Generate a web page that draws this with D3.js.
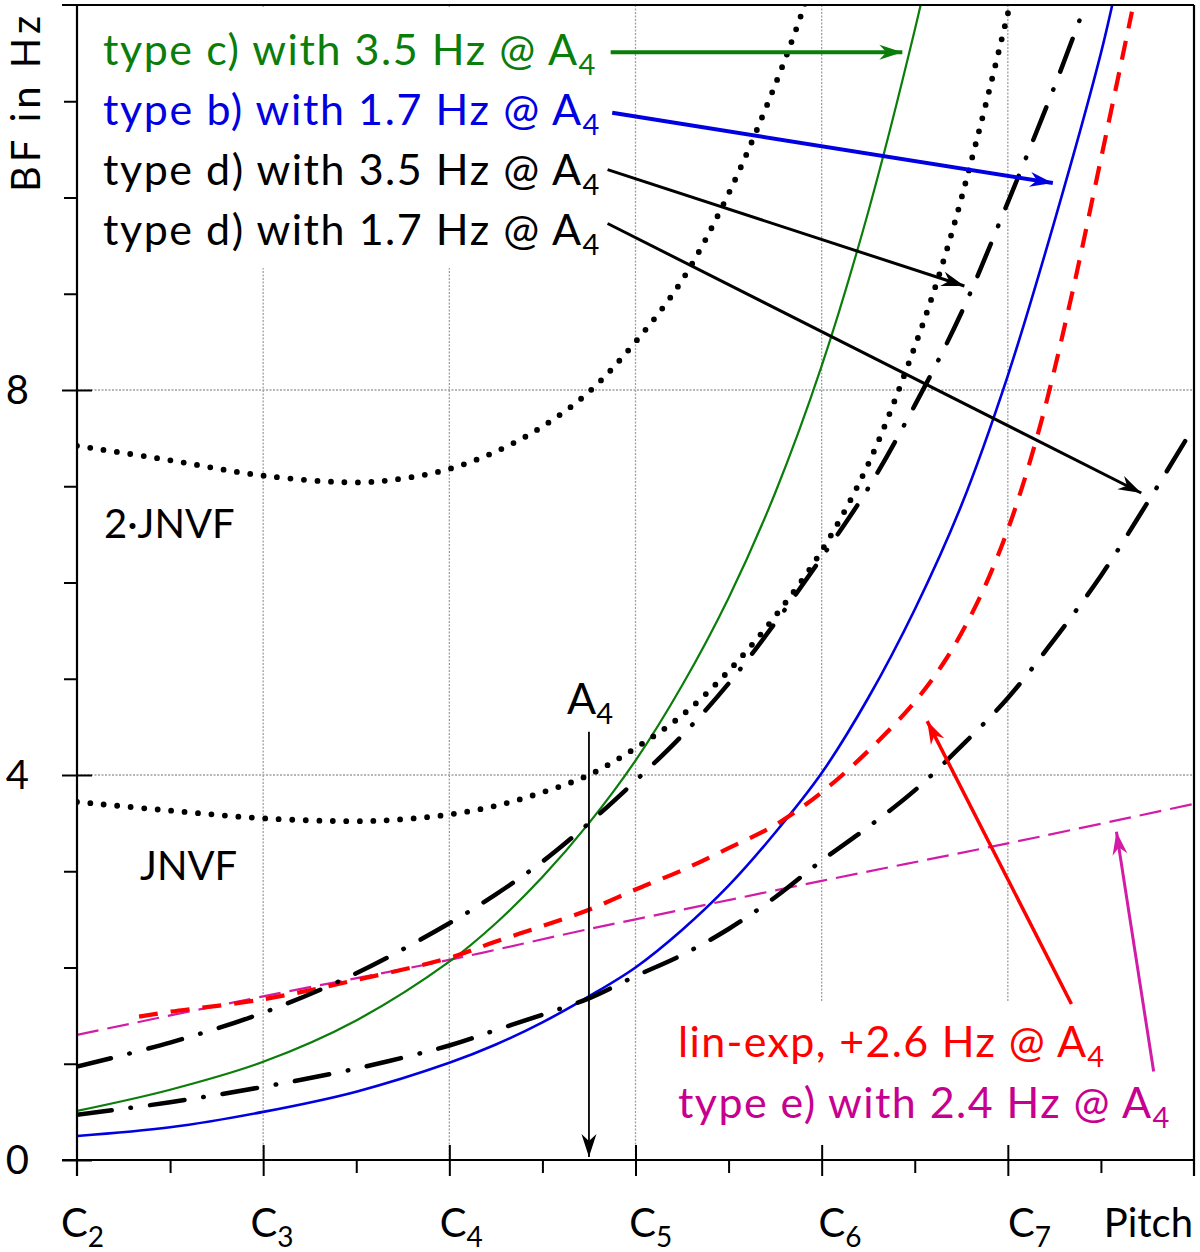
<!DOCTYPE html>
<html>
<head>
<meta charset="utf-8">
<script src="https://cdn.jsdelivr.net/npm/d3@7"></script>
<style>
  body { margin: 0; background: #fff; }
  text { font-family: Lato, "Open Sans", sans-serif; }
</style>
</head>
<body>
<svg id="chart" width="1200" height="1252"></svg>
<script>
// pitch as MIDI note number (C2 = 36 ... C8 = 108), BF in Hz
const octavePitch = [36, 48, 60, 72, 84, 96];
const octaveNames = ['C2', 'C3', 'C4', 'C5', 'C6', 'C7'];
const halfOctavePitch = [42, 54, 66, 78, 90, 102];
const hzMajor = [0, 4, 8];
const hzMinor = [1, 2, 3, 5, 6, 7, 9, 10, 11];

// JNVF and 2·JNVF (dotted)
const jnvfPitch = [36, 42, 48, 54, 57, 60, 63, 66, 69, 72, 75, 78, 81, 84, 87, 90, 92, 94, 96, 97];
const jnvfValues = [3.72, 3.63, 3.55, 3.52, 3.54, 3.59, 3.68, 3.82, 4.00, 4.28, 4.62, 5.08, 5.65, 6.33, 7.23, 8.45, 9.42, 10.60, 11.91, 12.6];
const jnvf2Pitch = [36, 42, 48, 54, 57, 60, 63, 66, 69, 72, 75, 78, 81, 83, 84];
const jnvf2Values = [7.42, 7.27, 7.11, 7.04, 7.08, 7.18, 7.36, 7.62, 7.98, 8.50, 9.14, 10.04, 11.17, 12.05, 12.6];

// type b) 1.7 Hz @ A4 (blue)
const typeBPitch = [36, 42, 48, 54, 60, 63, 66, 69, 72, 75, 78, 81, 84, 87, 90, 93, 96, 99, 102, 103];
const typeBValues = [0.25, 0.34, 0.50, 0.71, 1.01, 1.20, 1.43, 1.70, 2.00, 2.39, 2.85, 3.40, 4.02, 4.80, 5.72, 6.80, 8.15, 9.75, 11.50, 12.2];

// type c) 3.5 Hz @ A4 (green)
const typeCPitch = [36, 42, 48, 54, 60, 63, 66, 69, 72, 75, 78, 81, 84, 87, 90, 91];
const typeCValues = [0.51, 0.73, 1.02, 1.45, 2.06, 2.46, 2.94, 3.50, 4.15, 4.93, 5.84, 6.93, 8.25, 9.85, 11.74, 12.45];

// type d) 3.5 Hz and 1.7 Hz @ A4 (black dash-dot)
const typeD35Pitch = [36, 42, 48, 54, 60, 63, 66, 69, 72, 75, 78, 81, 84, 87, 90, 93, 96, 99, 101, 102];
const typeD35Values = [0.97, 1.22, 1.53, 1.94, 2.46, 2.76, 3.10, 3.50, 3.94, 4.41, 4.95, 5.58, 6.26, 6.98, 7.84, 8.80, 9.95, 11.15, 12.0, 12.4];
const typeD17Pitch = [36, 42, 48, 54, 60, 63, 66, 69, 72, 75, 78, 81, 84, 87, 90, 93, 96, 99, 102, 105, 108];
const typeD17Values = [0.47, 0.60, 0.76, 0.95, 1.19, 1.35, 1.51, 1.68, 1.91, 2.13, 2.40, 2.73, 3.11, 3.46, 3.84, 4.30, 4.80, 5.41, 6.07, 6.83, 7.62];

// lin-exp, +2.6 Hz @ A4 (red dashed)
const linExpPitch = [40, 42, 48, 54, 60, 63, 66, 69, 72, 75, 78, 81, 84, 87, 90, 92, 94, 96, 98, 100, 102, 104];
const linExpValues = [1.49, 1.54, 1.67, 1.87, 2.10, 2.27, 2.43, 2.60, 2.81, 3.01, 3.24, 3.48, 3.82, 4.25, 4.76, 5.20, 5.78, 6.55, 7.58, 8.90, 10.40, 11.93];

// type e) 2.4 Hz @ A4 (magenta dashed)
const typeEPitch = [36, 48, 60, 69, 72, 84, 96, 108];
const typeEValues = [1.30, 1.70, 2.08, 2.40, 2.50, 2.90, 3.29, 3.70];

const svg = d3.select('#chart');
const x = d3.scaleLinear().domain([36, 108]).range([77, 1194]);
const y = d3.scaleLinear().domain([0, 12]).range([1160, 5]);
const fontSize = 43;
const subSize = 29;

// grid
const grid = svg.append('g')
  .attr('stroke', '#a0a0a0')
  .attr('stroke-width', 1.3)
  .attr('stroke-dasharray', '2,1.5');
octavePitch.slice(1).forEach(p => {
  grid.append('line')
    .attr('x1', x(p)).attr('x2', x(p))
    .attr('y1', y(12)).attr('y2', y(0));
});
[4, 8].forEach(v => {
  grid.append('line')
    .attr('x1', x(36)).attr('x2', x(108))
    .attr('y1', y(v)).attr('y2', y(v));
});

// white boxes behind the text blocks
svg.append('rect').attr('x', 80).attr('y', 8).attr('width', 525).attr('height', 260).attr('fill', '#fff');
svg.append('rect').attr('x', 650).attr('y', 1002).attr('width', 541).attr('height', 156).attr('fill', '#fff');

// curves
svg.append('defs').append('clipPath').attr('id', 'plot')
  .append('rect')
  .attr('x', x(36)).attr('y', y(12))
  .attr('width', x(108) - x(36)).attr('height', y(0) - y(12));

const series = [
  { p: typeEPitch, v: typeEValues, color: '#d21ca6', width: 2.2, dash: '22,9' },
  { p: typeCPitch, v: typeCValues, color: '#0a7d0a', width: 2.2, dash: null },
  { p: typeBPitch, v: typeBValues, color: '#0000e0', width: 2.6, dash: null },
  { p: linExpPitch, v: linExpValues, color: '#ff0000', width: 4.2, dash: '19,13' },
  { p: typeD35Pitch, v: typeD35Values, color: '#000', width: 4.5, dash: '35,19,0.5,19', cap: 'round' },
  { p: typeD17Pitch, v: typeD17Values, color: '#000', width: 4.5, dash: '35,19,0.5,19', cap: 'round' },
  { p: jnvfPitch, v: jnvfValues, color: '#000', width: 5.8, dash: '0,13.5', cap: 'round' },
  { p: jnvf2Pitch, v: jnvf2Values, color: '#000', width: 5.8, dash: '0,13.5', cap: 'round' }
];

const line = d3.line()
  .x(d => x(d[0]))
  .y(d => y(d[1]))
  .curve(d3.curveCatmullRom.alpha(0.5));

const curves = svg.append('g').attr('clip-path', 'url(#plot)');
series.forEach(s => {
  curves.append('path')
    .datum(s.p.map((p, i) => [p, s.v[i]]))
    .attr('d', line)
    .attr('fill', 'none')
    .attr('stroke', s.color)
    .attr('stroke-width', s.width)
    .attr('stroke-dasharray', s.dash)
    .attr('stroke-linecap', s.cap || 'butt');
});

// axes
const xAxis = svg.append('g').attr('transform', `translate(0,${y(0)})`)
  .call(d3.axisBottom(x).tickValues(octavePitch.slice(1)).tickSize(16).tickFormat(''));
xAxis.selectAll('.tick line').attr('y1', -15).attr('stroke-width', 2);
xAxis.select('.domain').remove();
const xMinor = svg.append('g').attr('transform', `translate(0,${y(0)})`)
  .call(d3.axisBottom(x).tickValues(halfOctavePitch).tickSize(13).tickFormat(''));
xMinor.selectAll('.tick line').attr('stroke-width', 2);
xMinor.select('.domain').remove();

const yAxis = svg.append('g').attr('transform', `translate(${x(36)},0)`)
  .call(d3.axisLeft(y).tickValues(hzMajor).tickSize(15).tickFormat(''));
yAxis.selectAll('.tick line').attr('x1', 15).attr('stroke-width', 2);
yAxis.select('.domain').remove();
const yMinor = svg.append('g').attr('transform', `translate(${x(36)},0)`)
  .call(d3.axisLeft(y).tickValues(hzMinor).tickSize(13).tickFormat(''));
yMinor.selectAll('.tick line').attr('stroke-width', 2);
yMinor.select('.domain').remove();

// frame: left, bottom, top, right
const frame = svg.append('g').attr('stroke', '#000').attr('stroke-width', 2.2).attr('fill', 'none');
frame.append('line').attr('x1', x(36)).attr('x2', x(36)).attr('y1', y(12)).attr('y2', y(0) + 16);
frame.append('line').attr('x1', x(36) - 15).attr('x2', x(108)).attr('y1', y(0)).attr('y2', y(0));
frame.append('line').attr('x1', x(36) - 15).attr('x2', x(108)).attr('y1', y(12)).attr('y2', y(12));
frame.append('line').attr('x1', x(108)).attr('x2', x(108)).attr('y1', y(12)).attr('y2', y(0) + 16);

// tick labels
const labelX = d3.scaleLinear().domain([36, 96]).range([61, 1008]);
octavePitch.forEach((p, i) => {
  const t = svg.append('text')
    .attr('x', labelX(p)).attr('y', 1237)
    .attr('font-size', 40).attr('fill', '#000');
  t.append('tspan').text(octaveNames[i][0]);
  t.append('tspan').attr('dy', 10).attr('font-size', 28).text(octaveNames[i].slice(1));
});
svg.append('text').attr('x', 1193).attr('y', 1237).attr('text-anchor', 'end')
  .attr('font-size', 40).text('Pitch');

hzMajor.forEach(v => {
  svg.append('text').attr('x', 29).attr('y', y(v)).attr('dy', '0.36em')
    .attr('text-anchor', 'end').attr('font-size', 40).text(v);
});
svg.append('text')
  .attr('transform', `translate(40,104) rotate(-90)`)
  .attr('text-anchor', 'middle').attr('font-size', 40)
  .attr('textLength', 176).attr('lengthAdjust', 'spacing')
  .text('BF in Hz');

// arrow heads
const defs = svg.select('defs');
const arrowColors = { green: '#0a7d0a', blue: '#0000e0', black: '#000', red: '#ff0000', magenta: '#d21ca6' };
Object.entries(arrowColors).forEach(([name, c]) => {
  defs.append('marker')
    .attr('id', `arrow-${name}`)
    .attr('markerUnits', 'userSpaceOnUse')
    .attr('viewBox', '-24 -10 26 20')
    .attr('markerWidth', 26).attr('markerHeight', 20)
    .attr('refX', 0).attr('refY', 0)
    .attr('orient', 'auto')
    .append('path')
    .attr('d', 'M0,0 L-23,-7.5 L-16,0 L-23,7.5 Z')
    .attr('fill', c);
});

// text with a subscript 4; mainWidth stretches the main part to the reference width
function subLabel(tx, ty, str, color, mainWidth) {
  const t = svg.append('text').attr('x', tx).attr('y', ty)
    .attr('font-size', fontSize).attr('fill', color);
  const main = t.append('tspan').text(str);
  if (mainWidth) main.attr('textLength', mainWidth).attr('lengthAdjust', 'spacing');
  t.append('tspan').attr('dy', 10).attr('font-size', subSize).text('4');
  return t;
}

function arrow(from, to, name, width) {
  svg.append('line')
    .attr('x1', x(from[0])).attr('y1', y(from[1]))
    .attr('x2', x(to[0])).attr('y2', y(to[1]))
    .attr('stroke', arrowColors[name])
    .attr('stroke-width', width)
    .attr('marker-end', `url(#arrow-${name})`);
}

// legend texts (upper left)
const legendLines = [
  'type c) with 3.5 Hz @ A',
  'type b) with 1.7 Hz @ A',
  'type d) with 3.5 Hz @ A',
  'type d) with 1.7 Hz @ A'
];
const legendColors = ['#0a7d0a', '#0000e0', '#000', '#000'];
const legendWidths = [474, 478, 478, 478];
legendLines.forEach((s, i) => subLabel(103, 65 + i * 60, s, legendColors[i], legendWidths[i]));

// arrows: start / end in (pitch, Hz)
arrow([70.4, 11.51], [89.2, 11.51], 'green', 4);
arrow([70.5, 10.88], [98.9, 10.15], 'blue', 4);
arrow([70.2, 10.29], [93.2, 9.08], 'black', 3);
arrow([70.2, 9.73], [104.6, 6.93], 'black', 3);

svg.append('text').attr('x', 104).attr('y', 538).attr('font-size', 40).text('2\u00b7JNVF');
svg.append('text').attr('x', 140).attr('y', 880).attr('font-size', 40).text('JNVF');

// A4 marker
subLabel(567, 714, 'A', '#000');
arrow([69, 4.45], [69, 0.03], 'black', 1.8);

// lower right texts
subLabel(678, 1057, 'lin-exp, +2.6 Hz @ A', '#ff0000', 408);
subLabel(678, 1118, 'type e) with 2.4 Hz @ A', '#c8008f', 473);
arrow([100.1, 1.62], [90.8, 4.56], 'red', 3.5);
arrow([105.4, 0.92], [103.0, 3.41], 'magenta', 3);
</script>
</body>
</html>
